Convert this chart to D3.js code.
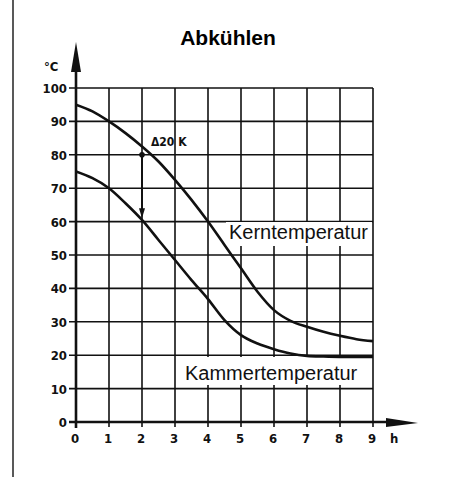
<!DOCTYPE html>
<html>
<head>
<meta charset="utf-8">
<script src="https://cdn.jsdelivr.net/npm/d3@7"></script>
<style>
  body { margin: 0; background: #fff; }
  svg { display: block; }
  .tick-label { font-family: "DejaVu Sans Condensed", "DejaVu Sans", sans-serif; font-weight: bold; font-size: 13px; fill: #111; }
  .curve-label { font-family: "Liberation Sans", Arial, sans-serif; font-size: 20px; fill: #111; }
</style>
</head>
<body>
<div id="chart"></div>
<script>
const hours = [0, 0.5, 1, 1.5, 2, 2.5, 3, 3.5, 4, 4.5, 5, 5.5, 6, 6.5, 7, 7.5, 8, 8.5, 9]
const kernTemp = [95, 93, 90, 86.5, 82.5, 78, 72.5, 66.5, 60, 53, 46, 39, 33.5, 30.3, 28.5, 27, 25.8, 24.8, 24.2]
const kammerTemp = [75, 73, 70, 65.5, 60.5, 54.5, 48.5, 42.5, 36.8, 30.5, 26, 23.5, 21.8, 20.5, 19.8, 19.6, 19.5, 19.5, 19.5]
const xTicks = [0, 1, 2, 3, 4, 5, 6, 7, 8, 9]
const yTicks = [0, 10, 20, 30, 40, 50, 60, 70, 80, 90, 100]
const delta = { t: 2, from: 80, to: 60, label: "20 K" }

const width = 449, height = 477

let svg = d3.select('#chart').append('svg')
  .attr('width', width)
  .attr('height', height)

let x = d3.scaleLinear().domain([0, 9]).range([76, 373])
let y = d3.scaleLinear().domain([0, 100]).range([422, 88])

// page border on the left
svg.append('line')
  .attr('x1', 13).attr('x2', 13).attr('y1', 0).attr('y2', height)
  .attr('stroke', '#222').attr('stroke-width', 1.5)

// title
svg.append('text')
  .attr('x', 228).attr('y', 45)
  .attr('text-anchor', 'middle')
  .style('font-family', '"Liberation Sans", Arial, sans-serif')
  .style('font-weight', 'bold')
  .style('font-size', '21px')
  .text('Abkühlen')

let grid = svg.append('g')

// horizontal grid
grid.selectAll('.hgrid')
  .data(yTicks.filter(d => d > 0))
  .enter().append('line')
  .attr('x1', 69).attr('x2', x(9))
  .attr('y1', d => y(d)).attr('y2', d => y(d))
  .attr('stroke', '#111').attr('stroke-width', 1.6)

// vertical grid
grid.selectAll('.vgrid')
  .data(xTicks.filter(d => d > 0))
  .enter().append('line')
  .attr('x1', d => x(d)).attr('x2', d => x(d))
  .attr('y1', y(100)).attr('y2', y(0) + 5)
  .attr('stroke', '#111').attr('stroke-width', 1.6)

// label boxes hide the grid behind the text
svg.append('rect').attr('x', 226).attr('y', 222).attr('width', x(9) - 227).attr('height', 24).attr('fill', '#fff')
svg.append('rect').attr('x', 181).attr('y', 357).attr('width', x(9) - 182).attr('height', 28).attr('fill', '#fff')

// axes with arrows
svg.append('line')
  .attr('x1', x(0)).attr('x2', x(0)).attr('y1', y(0) + 6).attr('y2', 60)
  .attr('stroke', '#111').attr('stroke-width', 2.6)
svg.append('path')
  .attr('d', `M${x(0)},42 L${x(0) - 5},72 L${x(0) + 5},72 Z`)
  .attr('fill', '#111')
svg.append('line')
  .attr('x1', 69).attr('x2', 400).attr('y1', y(0)).attr('y2', y(0))
  .attr('stroke', '#111').attr('stroke-width', 2.6)
svg.append('path')
  .attr('d', `M418,${y(0) + 1} L386,${y(0) - 4} L386,${y(0) + 5} Z`)
  .attr('fill', '#111')

// tick labels
svg.selectAll('.ylab')
  .data(yTicks)
  .enter().append('text')
  .attr('class', 'tick-label')
  .attr('x', 67)
  .attr('y', d => y(d) + 5)
  .attr('text-anchor', 'end')
  .text(d => d)

svg.selectAll('.xlab')
  .data(xTicks)
  .enter().append('text')
  .attr('class', 'tick-label')
  .attr('x', d => x(d) - 1)
  .attr('y', 443)
  .attr('text-anchor', 'middle')
  .text(d => d)

svg.append('text').attr('class', 'tick-label').attr('x', 390).attr('y', 443).text('h')
svg.append('text').attr('class', 'tick-label').attr('x', 44).attr('y', 71).text('°C')

// curves
const line = d3.line()
  .curve(d3.curveMonotoneX)
  .x(d => x(d[0]))
  .y(d => y(d[1]))

svg.append('path')
  .datum(d3.zip(hours, kernTemp))
  .attr('d', line)
  .attr('fill', 'none').attr('stroke', '#111').attr('stroke-width', 2.6)

svg.append('path')
  .datum(d3.zip(hours, kammerTemp))
  .attr('d', line)
  .attr('fill', 'none').attr('stroke', '#111').attr('stroke-width', 2.6)

// delta annotation
svg.append('line')
  .attr('x1', x(delta.t)).attr('x2', x(delta.t))
  .attr('y1', y(delta.from)).attr('y2', y(delta.to + 2))
  .attr('stroke', '#111').attr('stroke-width', 2)
svg.append('circle')
  .attr('cx', x(delta.t)).attr('cy', y(delta.from)).attr('r', 2.8).attr('fill', '#111')
svg.append('path')
  .attr('d', `M${x(delta.t)},${y(delta.to + 1)} L${x(delta.t) - 3},${y(delta.to + 4)} L${x(delta.t) + 3},${y(delta.to + 4)} Z`)
  .attr('fill', '#111')
svg.append('text')
  .attr('class', 'tick-label')
  .attr('x', x(delta.t) + 9).attr('y', y(delta.from) - 9)
  .style('font-size', '12px')
  .text('Δ' + delta.label)

// curve labels
svg.append('text').attr('class', 'curve-label').attr('x', 229).attr('y', 239).text('Kerntemperatur')
svg.append('text').attr('class', 'curve-label').attr('x', 185).attr('y', 380).text('Kammertemperatur')
</script>
</body>
</html>
